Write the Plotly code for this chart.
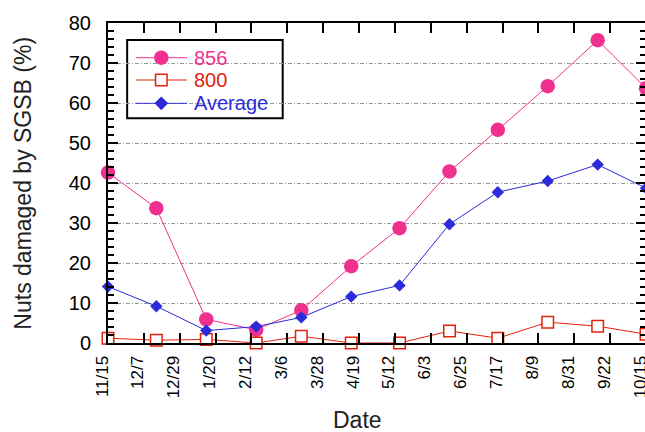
import pandas as pd
import plotly.graph_objects as go

# ---------------- data ----------------
dates = ["2001-11-15", "2001-12-15", "2002-01-15", "2002-02-15", "2002-03-15", "2002-04-15",
         "2002-05-15", "2002-06-15", "2002-07-15", "2002-08-15", "2002-09-15", "2002-10-15"]
s856 = [42.6, 33.7, 5.9, 3.3, 8.2, 19.2, 28.7, 42.9, 53.3, 64.2, 75.7, 63.7]
s800 = [1.2, 0.7, 0.9, 0.0, 1.7, 0.0, 0.0, 3.0, 1.2, 5.2, 4.2, 2.2]
savg = [14.1, 9.2, 3.1, 4.1, 6.4, 11.6, 14.4, 29.7, 37.7, 40.5, 44.6, 38.7]
series_names = ["856", "800", "Average"]
tick_labels = ["11/15", "12/7", "12/29", "1/20", "2/12", "3/6", "3/28", "4/19",
               "5/12", "6/3", "6/25", "7/17", "8/9", "8/31", "9/22", "10/15"]
y_range = [0, 80]
y_major = 10
y_minor = 2

# ---------------- style ----------------
PINK = "#F0308F"
RED = "#E0230A"
BLUE = "#2B2BD9"
FONT = "Liberation Sans, Arial, Helvetica, sans-serif"
W, H = 652, 432          # the chart runs a few pixels past the right edge of the window
ML, MR, MT, MB = 108, 2, 23, 89
PW, PH = W - ML - MR, H - MT - MB


def px_x(px):
    return (px - ML) / PW


def px_y(py):
    return (H - MB - py) / PH


start = pd.Timestamp(dates[0])
end = pd.Timestamp(dates[-1])
span = end - start
n_int = len(tick_labels) - 1
tickvals = [(start + span * i / n_int) for i in range(n_int + 1)]
fmt = "%Y-%m-%d %H:%M:%S"

MK856 = dict(symbol="circle", size=14.5, color=PINK, line=dict(width=0))
MK800 = dict(symbol="square", size=11.5, color="white", line=dict(color=RED, width=1.5))
MKAVG = dict(symbol="diamond", size=9.5, color=BLUE, line=dict(width=0))

fig = go.Figure()
fig.add_trace(go.Scatter(x=dates, y=s856, mode="lines+markers", name=series_names[0], cliponaxis=False,
                         line=dict(color=PINK, width=1), marker=MK856))
fig.add_trace(go.Scatter(x=dates, y=s800, mode="lines+markers", name=series_names[1], cliponaxis=False,
                         line=dict(color=RED, width=1), marker=MK800))
fig.add_trace(go.Scatter(x=dates, y=savg, mode="lines+markers", name=series_names[2], cliponaxis=False,
                         line=dict(color=BLUE, width=1), marker=MKAVG))

# ---------------- manual legend (overlay axes: x in pixels, y in data units) ----------------
leg_rows = [px_y(p) * (y_range[1] - y_range[0]) + y_range[0] for p in (57.7, 80.0, 103.3)]
leg_line = [px_x(136) * PW, px_x(187.7) * PW]
leg_mark = px_x(161.7) * PW
leg_text = px_x(192.7) * PW
leg_styles = [(PINK, MK856), (RED, MK800), (BLUE, dict(MKAVG, size=10.5))]
for (col, mk), yrow in zip(leg_styles, leg_rows):
    fig.add_trace(go.Scatter(x=leg_line, y=[yrow, yrow], mode="lines", xaxis="x2", yaxis="y2",
                             line=dict(color=col, width=1), hoverinfo="skip"))
    fig.add_trace(go.Scatter(x=[leg_mark], y=[yrow], mode="markers", xaxis="x2", yaxis="y2",
                             marker=mk, hoverinfo="skip"))

annotations = []
for (col, _), yrow, name in zip(leg_styles, leg_rows, series_names):
    annotations.append(dict(xref="x2", yref="y2", x=leg_text, y=yrow, text=name, showarrow=False,
                            xanchor="left", yanchor="middle",
                            font=dict(family=FONT, size=20, color=col)))

# axis titles
annotations.append(dict(xref="paper", yref="paper", x=px_x(22), y=0.5, text="Nuts damaged by SGSB (%)",
                        textangle=-90, showarrow=False, xanchor="center", yanchor="middle",
                        font=dict(family=FONT, size=23, color="#222")))
annotations.append(dict(xref="paper", yref="paper", x=px_x(359), y=px_y(420), text="Date",
                        showarrow=False, xanchor="center", yanchor="middle",
                        font=dict(family=FONT, size=23, color="#222")))

fig.update_layout(
    width=W, height=H,
    margin=dict(l=ML, r=MR, t=MT, b=MB, pad=0),
    paper_bgcolor="white", plot_bgcolor="white",
    font=dict(family=FONT, color="black"),
    showlegend=False,
    xaxis=dict(
        type="date", range=[start.strftime(fmt), end.strftime(fmt)],
        tickmode="array", tickvals=[t.strftime(fmt) for t in tickvals], ticktext=tick_labels,
        tickangle=-90, ticks="inside", ticklen=10, tickwidth=2, tickcolor="black",
        showline=True, linecolor="black", linewidth=2, mirror="ticks",
        showgrid=False, zeroline=False, tickfont=dict(size=17, family=FONT),
        ticklabelstandoff=4, ticklabelshift=-6,
    ),
    yaxis=dict(
        range=y_range, tickmode="linear", tick0=0, dtick=y_major,
        ticks="inside", ticklen=10, tickwidth=2, tickcolor="black",
        showline=True, linecolor="black", linewidth=2, mirror="ticks",
        showgrid=True, gridcolor="#999999", gridwidth=1, griddash="4px,2px,1px,2px",
        zeroline=False, tickfont=dict(size=20, family=FONT), ticklabelstandoff=11,
    ),
    xaxis2=dict(overlaying="x", range=[0, PW], visible=False, fixedrange=True),
    # overlay y axis: carries the minor ticks (and the legend samples)
    yaxis2=dict(overlaying="y", range=y_range, tickmode="linear", tick0=0, dtick=y_minor,
                ticks="inside", ticklen=6, tickwidth=2, tickcolor="black", showticklabels=False,
                showline=True, linecolor="black", linewidth=2, mirror="ticks",
                showgrid=False, zeroline=False, fixedrange=True),
    shapes=[dict(type="rect", xref="paper", yref="paper",
                 x0=px_x(127.3), x1=px_x(284), y0=px_y(118.3), y1=px_y(40),
                 line=dict(color="black", width=2), fillcolor="white", layer="between")],
    annotations=annotations,
)

fig.write_html(
    "out.html",
    config={"displayModeBar": False},
    post_script="document.body.style.margin='0';document.body.style.overflow='hidden';",
)
